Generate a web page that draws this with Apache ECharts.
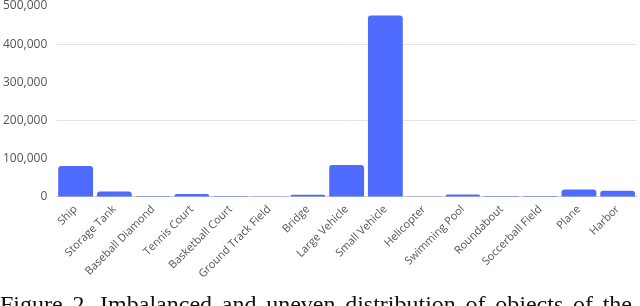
<!DOCTYPE html>
<html>
<head>
<meta charset="utf-8">
<script src="https://cdn.jsdelivr.net/npm/echarts@6/dist/echarts.min.js"></script>
<style>
html,body{margin:0;padding:0;background:#fff;}
#chart{width:640px;height:306px;}
</style>
</head>
<body>
<div id="chart"></div>
<script>
var categories = ['Ship','Storage Tank','Baseball Diamond','Tennis Court','Basketball Court','Ground Track Field','Bridge','Large Vehicle','Small Vehicle','Helicopter','Swimming Pool','Roundabout','Soccerball Field','Plane','Harbor'];
var counts = [80000, 13000, 1000, 6500, 1000, 800, 4500, 82500, 475000, 800, 5500, 1000, 1000, 18500, 15000];
var captionWords = ['Figure','2.','Imbalanced','and','uneven','distribution','of','objects','of','the'];

var captionFont = '24px "Liberation Serif"';
var lineWidth = 632;
var ctx = document.createElement('canvas').getContext('2d');
ctx.font = captionFont;
var widths = captionWords.map(function (w) { return ctx.measureText(w).width; });
var total = widths.reduce(function (a, b) { return a + b; }, 0);
var gap = (lineWidth - total) / (captionWords.length - 1);
var xPos = 0;
var graphics = captionWords.map(function (w, i) {
  var g = {type: 'text', x: xPos, y: 294, style: {text: w, font: captionFont, fill: '#111', textVerticalAlign: 'top'}};
  xPos += widths[i] + gap;
  return g;
});

var chart = echarts.init(document.getElementById('chart'), null, {renderer: 'canvas'});
chart.setOption({
  animation: false,
  backgroundColor: '#fff',
  grid: {left: 55, right: 3, top: 3, bottom: 109.5, containLabel: false},
  xAxis: {
    type: 'category',
    data: categories,
    axisLine: {lineStyle: {color: '#d0d0d0'}},
    axisTick: {show: false},
    axisLabel: {interval: 0, rotate: 45, color: '#555', fontFamily: 'Open Sans', fontSize: 11, margin: 11}
  },
  yAxis: [{
    type: 'value',
    min: 0, max: 500000, interval: 100000,
    axisLine: {show: false},
    axisTick: {show: false},
    axisLabel: {color: '#555', fontFamily: 'Open Sans', fontSize: 12, margin: 9},
    splitLine: {show: false}
  }, {
    type: 'value',
    position: 'left',
    min: 0, max: 500000, interval: 200000,
    axisLine: {show: false},
    axisTick: {show: false},
    axisLabel: {show: false},
    splitLine: {show: true, showMinLine: false, showMaxLine: false, lineStyle: {color: '#e4e4e4', width: 1}}
  }],
  series: [{
    type: 'bar',
    data: counts,
    barCategoryGap: '10%',
    itemStyle: {color: '#4f6bfe', borderRadius: [3,3,0,0]}
  }],
  graphic: graphics
});
</script>
</body>
</html>
